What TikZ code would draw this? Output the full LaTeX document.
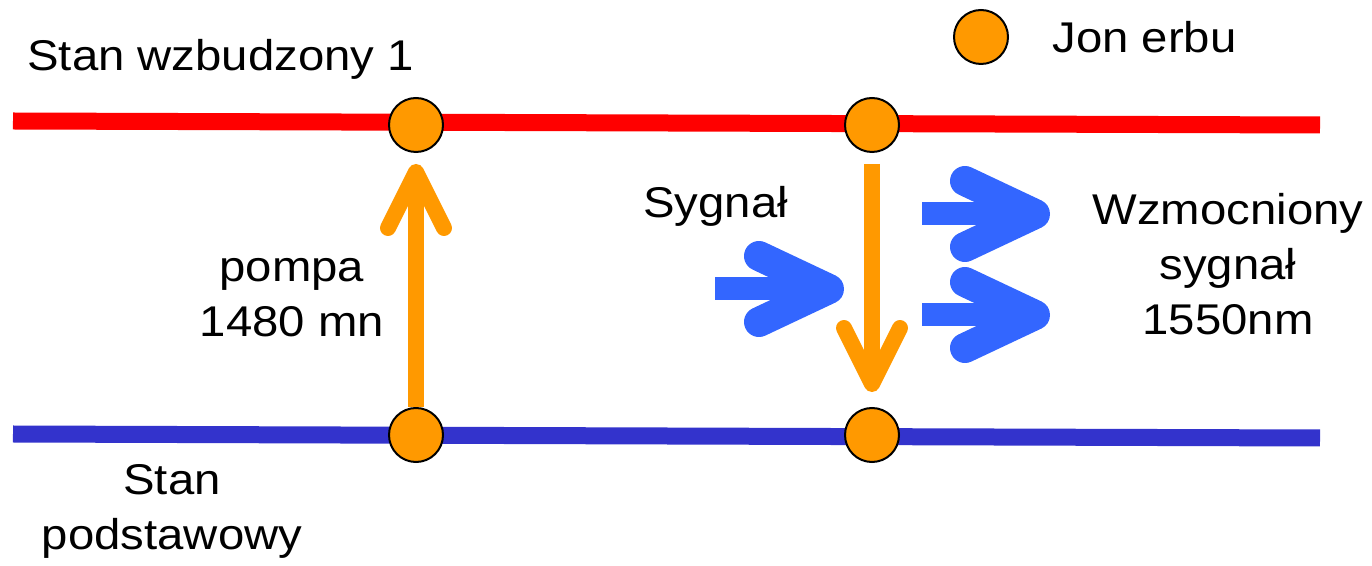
\documentclass[tikz,border=0pt]{standalone}
\usepackage{fontspec}
\setmainfont{Liberation Sans}[FakeStretch=1.1]
\usetikzlibrary{arrows.meta}

\definecolor{levelred}{HTML}{FF0000}
\definecolor{levelblue}{HTML}{3333CC}
\definecolor{erbium}{HTML}{FF9900}
\definecolor{signalblue}{HTML}{3366FF}

\begin{document}
\begin{tikzpicture}[x=0.5pt,y=-0.5pt,
  ion/.style={circle, draw=black, line width=1pt, fill=erbium, minimum size=27pt, inner sep=0pt},
  pump/.style={draw=erbium, line width=8pt, -{Straight Barb[round,length=28pt,width=28pt]}},
  signal/.style={draw=signalblue, line width=11.5pt, -{Straight Barb[round,length=35pt,width=33pt,line width'=15pt]}},
  txt/.style={font=\fontsize{21.5}{27.5}\selectfont, inner sep=0pt, align=center}]

\useasboundingbox (0,0) rectangle (1372,566);

% Draw the two energy levels
\draw[levelred, line width=8.5pt] (13,121) -- (1320,125);
\draw[levelblue, line width=8.5pt] (13,434) -- (1320,438);

% Erbium ions on the levels
\node[ion] (ex1) at (416,125) {};
\node[ion] (ex2) at (872,125) {};
\node[ion] (gr1) at (416,435) {};
\node[ion] (gr2) at (872,435) {};

% Pump up, emission down
\draw[pump, shorten >=5.5pt] (gr1.north) -- (ex1.south);
\draw[pump, shorten <=5.5pt, shorten >=7.5pt] (ex2.south) -- (gr2.north);

% Signal in and amplified signal out
\coordinate (sigin) at (715,289);
\coordinate (sigend) at (844,289);
\draw[signal] (sigin) -- (sigend);

\coordinate (ampin1) at (922,214);
\coordinate (ampend1) at (1050,214);
\draw[signal] (ampin1) -- (ampend1);
\coordinate (ampin2) at (922,315);
\coordinate (ampend2) at (1050,315);
\draw[signal] (ampin2) -- (ampend2);

% Legend
\node[ion] (legend) at (981,37) {};
\node[txt, anchor=base west] (legendtxt) at (1052,53) {Jon erbu};

% Labels (base = last line)
\node[txt, anchor=base west] (excited) at (27,71) {Stan wzbudzony 1};
\node[txt, anchor=base] (ground) at (172,550) {Stan\\podstawowy};
\node[txt, anchor=base] (pumptxt) at (292,337) {pompa\\1480 mn};
\node[txt, anchor=base west] (sigtxt) at (643,218) {Sygnał};
\node[txt, anchor=base] (amptxt) at (1228,335) {Wzmocniony\\sygnał\\1550nm};

\end{tikzpicture}
\end{document}
